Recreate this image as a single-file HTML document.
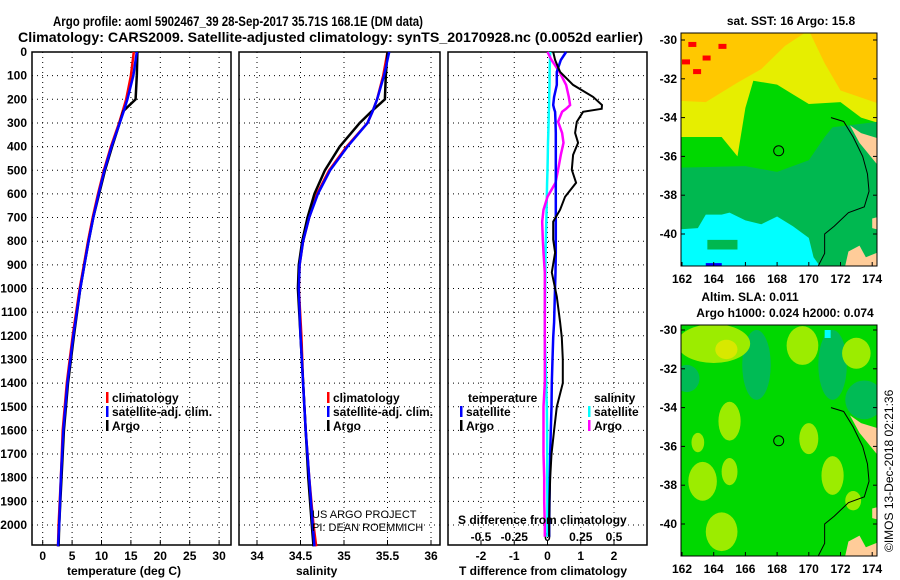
<!DOCTYPE html>
<html><head><meta charset="utf-8"><style>
html,body{margin:0;padding:0;background:#fff}
svg{display:block;font-family:"Liberation Sans",sans-serif}
.t{font-weight:bold;font-size:12px}
</style></head><body>
<svg id="s" width="900" height="580" viewBox="0 0 900 580">
<text x="53" y="26" class="t" style="font-size:14px" textLength="370" lengthAdjust="spacingAndGlyphs">Argo profile: aoml 5902467_39 28-Sep-2017 35.71S 168.1E (DM data)</text>
<text x="18" y="42" class="t" style="font-size:14px" textLength="625" lengthAdjust="spacingAndGlyphs">Climatology: CARS2009. Satellite-adjusted climatology: synTS_20170928.nc (0.0052d earlier)</text>
<g id="g"></g>
</svg>
<script>
// ---- data ----
const depthTicks=[0,100,200,300,400,500,600,700,800,900,1000,1100,1200,1300,1400,1500,1600,1700,1800,1900,2000];
const tTicks=[0,5,10,15,20,25,30];
const sTicks=[34,34.5,35,35.5,36];
const tdTicks=[-2,-1,0,1,2];
const sdTicks=[-0.5,-0.25,0,0.25,0.5];
const sdTickLabels=["-0.5","-0.25","0","0.25","0.5"];
const profDepth=[0,100,200,250,300,400,500,600,700,800,900,1000,1200,1400,1600,1800,2000,2090];
const tClim=[15.5,15.0,14.2,13.6,13.0,11.6,10.4,9.4,8.5,7.7,7.0,6.3,5.1,4.1,3.4,3.1,2.7,2.6];
const tSat=[16.0,15.4,14.4,13.8,13.1,11.7,10.5,9.5,8.6,7.8,7.1,6.4,5.2,4.2,3.5,3.1,2.8,2.6];
const tArgo=[16.1,16.0,15.8,13.7,13.1,11.8,10.6,9.6,8.6,7.8,7.1,6.4,5.3,4.3,3.6,3.2,2.8,2.7];
const sClim=[35.5,35.45,35.38,35.33,35.27,35.03,34.83,34.69,34.6,34.53,34.49,34.48,34.51,34.53,34.56,34.6,34.65,34.68];
const sSat=[35.52,35.46,35.38,35.33,35.27,35.04,34.84,34.7,34.6,34.53,34.49,34.48,34.5,34.53,34.56,34.6,34.64,34.66];
const sArgo=[35.5,35.48,35.47,35.32,35.18,34.95,34.78,34.66,34.58,34.52,34.48,34.47,34.5,34.53,34.56,34.59,34.63,34.65];
const dDepth=[0,34,84,139,190,224,240,253,295,342,384,435,498,553,612,667,717,793,848,932,1034,1143,1207,1300,1400,1500,1600,1700,1800,1900,2000,2050];
const tdArgo=[0.17,0.23,0.38,0.77,1.37,1.64,1.63,1.07,0.88,0.83,0.92,0.77,0.73,0.86,0.53,0.38,0.17,0.17,0.23,0.13,0.28,0.38,0.43,0.46,0.46,0.28,0.2,0.12,0.08,0.06,0.05,0.05];
const tdSat=[0.56,0.4,0.28,0.28,0.2,0.17,0.2,0.23,0.24,0.25,0.25,0.25,0.25,0.25,0.25,0.25,0.25,0.25,0.25,0.24,0.22,0.2,0.17,0.15,0.13,0.12,0.1,0.08,0.07,0.06,0.05,0.05];
const sdArgo=[0,0.03,0.09,0.14,0.16,0.17,0.14,0.11,0.08,0.11,0.12,0.1,0.08,0.06,0.0,-0.03,-0.04,-0.035,-0.03,-0.02,-0.02,-0.02,-0.02,-0.02,-0.02,-0.03,-0.03,-0.03,-0.025,-0.025,-0.02,-0.02];
const sdSat=[0.02,0.018,0.016,0.015,0.013,0.012,0.011,0.01,0.008,0.006,0.004,0.002,0,-0.003,-0.005,-0.007,-0.009,-0.012,-0.014,-0.016,-0.018,-0.02,-0.02,-0.015,-0.01,-0.005,-0.003,-0.002,-0.002,-0.001,-0.001,-0.001];
const lonTicks=[162,164,166,168,170,172,174];
const latTicks=[-30,-32,-34,-36,-38,-40];
// ---- helpers ----
const NS="http://www.w3.org/2000/svg";const G=document.getElementById('g');
function mk(tag,at,txt,parent){const e=document.createElementNS(NS,tag);for(const k in at)e.setAttribute(k,at[k]);if(txt!=null)e.textContent=txt;(parent||G).appendChild(e);return e;}
const Y0=52,YB=545;
const yD=d=>Y0+d*0.2365;
const xT=v=>42.7+v*5.88;
const xS=v=>257+(v-34)*87;
const xTD=v=>547.5+v*33.25;
const xSD=v=>547.5+v*133;
const panels=[{l:32,r:231,name:'temperature'},{l:239,r:440,name:'salinity'},{l:448,r:647,name:'difference'}];
function grid(p,xs,fx){
  depthTicks.forEach(d=>{if(d===0)return;const l=mk('line',{x1:p.l,x2:p.r,y1:yD(d),y2:yD(d),stroke:'#000','stroke-dasharray':'1 4','stroke-width':1});});
  xs.forEach(v=>{const x=fx(v);const l=mk('line',{x1:x,x2:x,y1:Y0,y2:YB,stroke:'#000','stroke-dasharray':'1 4'});
    mk('line',{x1:x,x2:x,y1:YB,y2:YB-5,stroke:'#000'});});
  const b=mk('rect',{x:p.l,y:Y0,width:p.r-p.l,height:YB-Y0,fill:'none',stroke:'#000','stroke-width':1.5});
  
}
grid(panels[0],tTicks,xT);grid(panels[1],sTicks,xS);grid(panels[2],tdTicks,xTD);
depthTicks.forEach(d=>{const t=mk('text',{x:27,y:yD(d)+4,'text-anchor':'end',class:'t'},String(d));});
function ticksLbl(arr,fx,y,labels){arr.forEach((v,i)=>{const t=mk('text',{x:fx(v),y:y,'text-anchor':'middle',class:'t'},labels?labels[i]:String(v));});}
ticksLbl(tTicks,xT,560);ticksLbl(sTicks,xS,560);ticksLbl(tdTicks,xTD,560);ticksLbl(sdTicks,xSD,541,sdTickLabels);
function line(xs,ds,fx,col,name,w){const pts=xs.map((v,i)=>fx(v).toFixed(1)+','+yD(ds[i]).toFixed(1)).join(' ');const p=mk('polyline',{points:pts,fill:'none',stroke:col,'stroke-width':w||2.5});}
line(tClim,profDepth,xT,'#f00','temp-climatology-line');line(tArgo,profDepth,xT,'#000','temp-argo-line');line(tSat,profDepth,xT,'#00f','temp-satellite-line');
line(sClim,profDepth,xS,'#f00','sal-climatology-line');line(sArgo,profDepth,xS,'#000','sal-argo-line');line(sSat,profDepth,xS,'#00f','sal-satellite-line');
line(sdSat,dDepth,xSD,'#0ff','sdiff-satellite-line');line(sdArgo,dDepth,xSD,'#f0f','sdiff-argo-line');line(tdSat,dDepth,xTD,'#00f','tdiff-satellite-line');line(tdArgo,dDepth,xTD,'#000','tdiff-argo-line',2);
function lbl(x,y,s,extra,name){const t=mk('text',Object.assign({x:x,y:y,class:'t'},extra||{}),s);return t;}
lbl(67,575,'temperature (deg C)',{},'temperature-axis-title');lbl(296,575,'salinity',{},'salinity-axis-title');
lbl(459,575,'T difference from climatology',{},'tdiff-axis-title');lbl(458,524,'S difference from climatology',{},'sdiff-axis-title');
function leg(x,y,col,s,name){mk('rect',{x:x,y:y-10,width:2.5,height:11,fill:col});lbl(x+6,y,s,{},name);}
leg(106,402,'#f00','climatology','legend-climatology');leg(106,416,'#00f','satellite-adj. clim.','legend-satellite');leg(106,430,'#000','Argo','legend-argo');
leg(327,402,'#f00','climatology','legend-climatology-s');leg(327,416,'#00f','satellite-adj. clim.','legend-satellite-s');leg(327,430,'#000','Argo','legend-argo-s');
lbl(468,402,'temperature',{},'legend-temperature-heading');leg(460,416,'#00f','satellite','legend-t-satellite');leg(460,430,'#000','Argo','legend-t-argo');
lbl(594,402,'salinity',{},'legend-salinity-heading');leg(588,416,'#0ff','satellite','legend-s-satellite');leg(588,430,'#f0f','Argo','legend-s-argo');
lbl(312,518,'US ARGO PROJECT',{style:'font-weight:normal;font-size:11px'},'project-credit');lbl(312,531,'PI: DEAN ROEMMICH',{style:'font-weight:normal;font-size:11px'},'pi-credit');
// ---- maps ----
function mapDraw(top,bot,latTopY,title1,title2,kind){
  const L=681,R=877;const mx=lo=>682+(lo-162)*15.85;const my=la=>latTopY+(-30-la)*19.4;
  const g=mk('g',{});
  const cp='clip'+kind;const c=mk('clipPath',{id:cp},null,g);mk('rect',{x:L,y:top,width:R-L,height:bot-top},null,c);
  const inner=mk('g',{'clip-path':'url(#'+cp+')'},null,g);
  const poly=(pts,col)=>mk('polygon',{points:pts.map(p=>mx(p[0])+','+my(p[1])).join(' '),fill:col},null,inner);
  const ell=(lo,la,rx,ry,col)=>mk('ellipse',{cx:mx(lo),cy:my(la),rx:rx*15.85,ry:ry*19.4,fill:col},null,inner);
  if(kind==='sst'){
    mk('rect',{x:L,y:top,width:R-L,height:bot-top,fill:'#ffc800'},null,inner);
    poly([[161,-33.1],[163.5,-33.2],[165.5,-32.2],[167,-31.5],[168.5,-30.3],[170,-29.5],[171,-31.2],[172,-32.6],[174.5,-33.3],[174.5,-43],[161,-43]],'#e6ee00');
    poly([[161,-35],[164.5,-35],[165.5,-36],[166,-33.5],[166.5,-32.1],[168,-32.3],[169,-32.8],[170,-33.3],[172,-33.2],[173.3,-34],[174.5,-34.3],[174.5,-43],[161,-43]],'#00d800');
    poly([[161,-36.6],[166,-36.5],[168,-36.8],[170,-36.2],[171,-35],[171.5,-34.5],[174.5,-34.2],[174.5,-43],[161,-43]],'#00b850');
    poly([[161,-39.8],[163,-39.7],[163.5,-39],[164.5,-39],[165,-38.9],[166,-39.3],[167,-39.5],[168,-39.1],[169,-39.6],[170,-40.2],[170.3,-41.2],[171,-42],[161,-42]],'#00ffff');
    poly([[163.6,-40.3],[165.5,-40.3],[165.5,-40.8],[163.6,-40.8]],'#00b850');
    mk('rect',{x:mx(163.5),y:my(-41.5),width:16,height:4,fill:'#0000ff'},null,inner);
    [[162,-31],[162.7,-31.5],[163.3,-30.8],[164.3,-30.2],[162.4,-30.1]].forEach(p=>mk('rect',{x:mx(p[0]),y:my(p[1]),width:8,height:5,fill:'#ff0000'},null,inner));
  } else {
    mk('rect',{x:L,y:top,width:R-L,height:bot-top,fill:'#00d800'},null,inner);
    [[166.7,-31.8,0.9,1.8],[162.3,-32.5,0.8,0.7],[171.5,-31.8,0.9,1.8],[173.5,-33.6,1.2,1]].forEach(e=>ell(e[0],e[1],e[2],e[3],'#00bb55'));
    [[164,-30.7,2.3,1],[165,-34.7,0.7,1],[163.3,-37.8,0.9,1],[164.5,-40.4,1,1],[165,-37.3,0.5,0.7],[169.6,-30.8,1,1],[170,-35.6,0.6,0.8],[171.5,-37.5,0.7,1],[173,-31.2,0.9,0.8],[163,-35.8,0.4,0.5],[172.8,-38.8,0.5,0.5]].forEach(e=>ell(e[0],e[1],e[2],e[3],'#9cec00'));
    ell(164.8,-31,0.7,0.5,'#d8e800');
    mk('rect',{x:mx(171),y:my(-30),width:6,height:8,fill:'#00ffff'},null,inner);
  }
  poly([[172.6,-34.4],[173.3,-34.8],[174.5,-35.1],[174.5,-36.6],[173.8,-35.9],[173.2,-35.3]],'#ffcc99');
  poly([[172.2,-42],[172.5,-40.9],[173.2,-40.6],[173.6,-41.2],[174.5,-40.9],[174.5,-42]],'#ffcc99');
  poly([[174,-39.2],[174.5,-39.1],[174.5,-39.8],[174,-39.7]],'#ffcc99');
  mk('polyline',{points:[[171.4,-34],[172.2,-34.2],[172.8,-35],[173.4,-36],[173.7,-36.9],[173.8,-37.8],[173.5,-38.6],[172.5,-38.9],[171.6,-39.6],[171,-40],[171,-41],[170.5,-41.8]].map(p=>mx(p[0])+','+my(p[1])).join(' '),fill:'none',stroke:'#000','stroke-width':1},null,inner);
  const circ=mk('circle',{cx:mx(168.1),cy:my(-35.71),r:5,fill:'none',stroke:'#000','stroke-width':1},null,g);
  
  mk('rect',{x:L,y:top,width:R-L,height:bot-top,fill:'none',stroke:'#000','stroke-width':1},null,g);
  lonTicks.forEach(v=>{const t=mk('text',{x:mx(v),y:bot+17,'text-anchor':'middle',class:'t'},String(v),g);mk('line',{x1:mx(v),x2:mx(v),y1:bot,y2:bot-4,stroke:'#000'},null,g);});
  latTicks.forEach(v=>{const t=mk('text',{x:677,y:my(v)+4,'text-anchor':'end',class:'t'},String(v),g);mk('line',{x1:L,x2:L+4,y1:my(v),y2:my(v),stroke:'#000'},null,g);mk('line',{x1:R,x2:R-4,y1:my(v),y2:my(v),stroke:'#000'},null,g);});
  if(title2){lbl(750,301,title1,{'text-anchor':'middle'},kind+'-map-title');lbl(785,317,title2,{'text-anchor':'middle'},kind+'-map-subtitle');}
  else lbl(791,25,title1,{'text-anchor':'middle'},kind+'-map-title');
}
mapDraw(33,266,40,'sat. SST: 16 Argo: 15.8',null,'sst');
mapDraw(325,556,330,'Altim. SLA: 0.011','Argo h1000: 0.024 h2000: 0.074','sla');
lbl(0,0,'©IMOS 13-Dec-2018 02:21:36',{transform:'translate(893,552) rotate(-90)',style:'font-weight:normal;font-size:12px'},'imos-credit');
</script>
</body></html>
